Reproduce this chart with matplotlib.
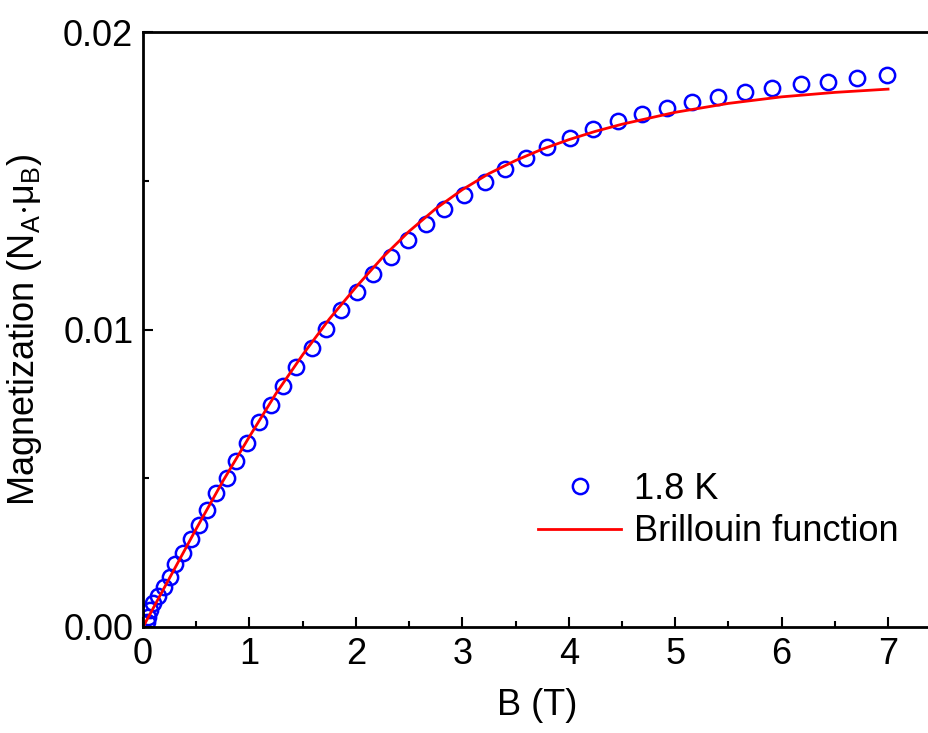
import numpy as np
import matplotlib
matplotlib.use("Agg")
import matplotlib.pyplot as plt

plt.rcParams['font.family'] = ['Liberation Sans', 'DejaVu Sans']
plt.rcParams['mathtext.fontset'] = 'custom'
plt.rcParams['mathtext.rm'] = 'Liberation Sans'
plt.rcParams['mathtext.it'] = 'Liberation Sans:italic'

# measured M(B) at 1.8 K
field = [0.04, 0.05, 0.066, 0.097, 0.144, 0.20, 0.254, 0.301, 0.379, 0.448,
         0.524, 0.604, 0.686, 0.787, 0.874, 0.98, 1.09, 1.20, 1.32, 1.44,
         1.59, 1.72, 1.86, 2.01, 2.16, 2.33, 2.49, 2.66, 2.83, 3.02,
         3.21, 3.40, 3.60, 3.80, 4.01, 4.23, 4.46, 4.69, 4.92, 5.16,
         5.40, 5.66, 5.91, 6.18, 6.44, 6.71, 6.99]
magn = [0.00017, 0.00035, 0.00057, 0.00080, 0.00104, 0.00136, 0.00169, 0.00211, 0.00250, 0.00295,
        0.00342, 0.00394, 0.00449, 0.00502, 0.00559, 0.00620, 0.00690, 0.00747, 0.00809, 0.00875,
        0.00937, 0.01002, 0.01066, 0.01127, 0.01186, 0.01243, 0.01300, 0.01353, 0.01405, 0.01453,
        0.01497, 0.01538, 0.01578, 0.01612, 0.01645, 0.01675, 0.01702, 0.01724, 0.01746, 0.01766,
        0.01783, 0.01798, 0.01813, 0.01824, 0.01833, 0.01844, 0.01854]

# Brillouin fit curve
fit_B = [0, 0.25, 0.5, 0.75, 1.0, 1.25, 1.5, 1.75, 2.0, 2.25, 2.5, 2.75, 3.0,
         3.25, 3.5, 3.75, 4.0, 4.25, 4.5, 5.0, 5.5, 6.0, 6.5, 7.0]
fit_M = [0, 0.00165, 0.00330, 0.00490, 0.00640, 0.00785, 0.00915, 0.01035, 0.01142,
         0.01242, 0.01330, 0.01406, 0.01470, 0.01524, 0.01568, 0.01606, 0.01638,
         0.01666, 0.01690, 0.01730, 0.01760, 0.01782, 0.01797, 0.01808]

fig = plt.figure(figsize=(9.29, 7.33), dpi=100)
ax = fig.add_axes([143/929, 106/733, 787.6/929, 595/733])

ax.plot(field, magn, 'o', ms=11, mfc='none', mec='#0000ff', mew=1.8, label='1.8 K')
ax.plot(fit_B, fit_M, '-', color='#ff0000', lw=2, label='Brillouin function')

ax.set_xlim(0, 7.4)
ax.set_ylim(0, 0.02)
ax.set_xticks(range(8))
ax.set_xticks(np.arange(0.5, 7.4, 1.0), minor=True)
ax.set_yticks([0, 0.01, 0.02])
ax.set_yticklabels(['0.00', '0.01', '0.02'])
ax.set_yticks([0.005, 0.015], minor=True)

ax.spines['right'].set_visible(False)
for s in ['left', 'bottom', 'top']:
    ax.spines[s].set_linewidth(2)
ax.tick_params(which='both', direction='in', top=False, right=False, labelsize=26, width=1.5)
ax.tick_params(which='major', length=7, pad=7)
ax.tick_params(which='minor', length=4)

ax.set_xlabel('B (T)', fontsize=26, labelpad=12)
ax.set_ylabel('Magnetization (N$_\\mathregular{A}$$\\cdot$$\\mathregular{\\mu}$$_\\mathregular{B}$)',
              fontsize=26, labelpad=14)

ax.legend(loc='upper left', bbox_to_anchor=(0.5015, 0.2605), frameon=False, fontsize=26,
          borderpad=0, borderaxespad=0, handlelength=2.3, handletextpad=0.35, labelspacing=0.2)

fig.savefig('out.png', dpi=100)
